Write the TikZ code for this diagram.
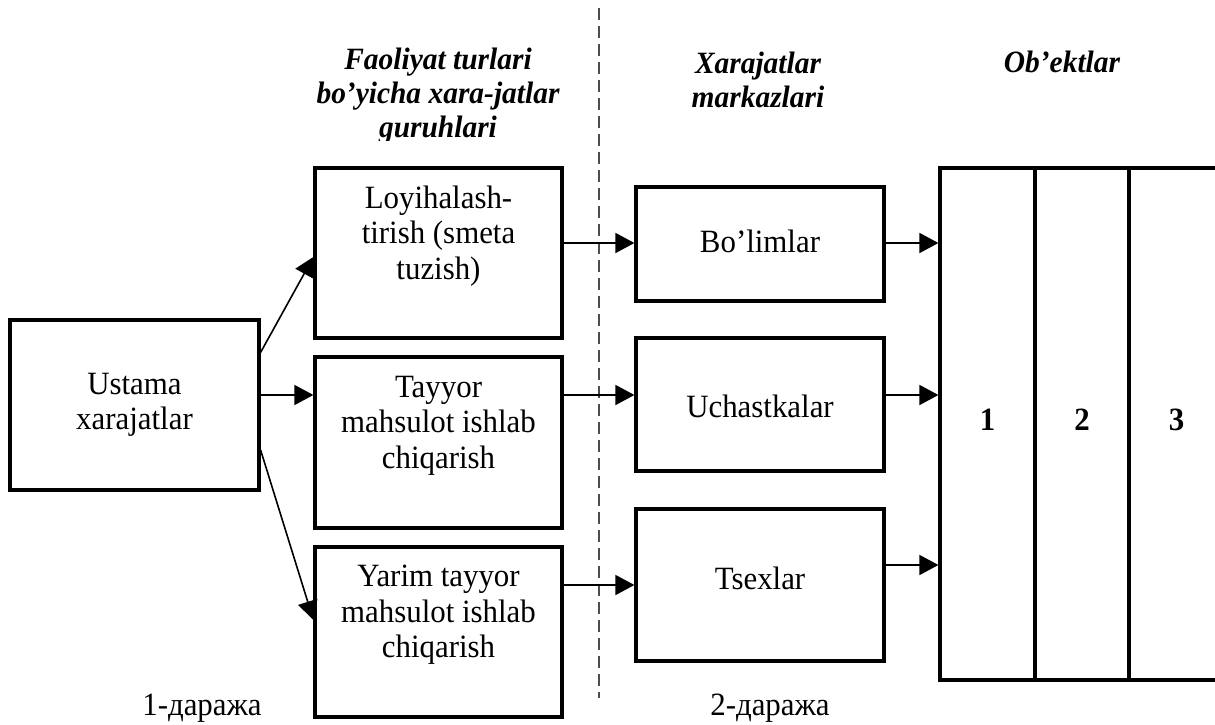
\documentclass[tikz,border=0pt]{standalone}
\usepackage{fontspec}
\setmainfont{Liberation Serif}[FakeStretch=0.95]
\usetikzlibrary{arrows.meta,calc}

\begin{document}
\begin{tikzpicture}[x=1pt,y=-1pt,
  box/.style={draw,line width=3.2pt,inner sep=0pt},
  link/.style={line width=1.6pt,-{Triangle[length=19pt,width=20pt]}},
  divider/.style={line width=1.1pt,black!70,dash pattern=on 12pt off 6pt},
  body/.style={font=\fontsize{32.5}{35.5}\selectfont,align=center,inner sep=0pt},
  head/.style={font=\fontsize{31}{34}\selectfont\bfseries\itshape,align=center,inner sep=0pt},
  num/.style={font=\fontsize{32.5}{36}\selectfont\bfseries}]

\clip (0,0) rectangle (1215,725);
\fill[white] (0,0) rectangle (1215,725);

% column headings
\begin{scope}
  \clip (250,0) rectangle (590,140);
  \node[head] (h1) at (438,96) {Faoliyat turlari\\bo’yicha xara-jatlar\\guruhlari};
\end{scope}
\node[head] (h2) at (758,80) {Xarajatlar\\markazlari};
\node[head] (h3) at (1062,62) {Ob’ektlar};

% separator between the two levels
\coordinate (dtop) at (599,8);
\coordinate (dbot) at (599,698);
\draw[divider] (dtop) -- (dbot);

% source box
\node[box,minimum width=249pt,minimum height=170pt] (ust) at (134.5,405) {};
\node[body] (ustt) at (ust.center) {Ustama\\xarajatlar};

% cost groups by activity
\node[box,minimum width=247pt,minimum height=170pt] (loy) at (438.5,253) {};
\node[body] (loyt) at ($(loy.center)+(0,-17)$) {Loyihalash-\\tirish (smeta\\tuzish)};
\node[box,minimum width=247pt,minimum height=171pt] (tay) at (438.5,442.5) {};
\node[body] (tayt) at ($(tay.center)+(0,-17)$) {Tayyor\\mahsulot ishlab\\chiqarish};
\node[box,minimum width=247pt,minimum height=170pt] (yar) at (438.5,632) {};
\node[body] (yart) at ($(yar.center)+(0,-17)$) {Yarim tayyor\\mahsulot ishlab\\chiqarish};

% cost centres
\node[box,minimum width=248pt,minimum height=114pt] (bol) at (760,244) {};
\node[body] (bolt) at ($(bol.center)+(0,-3)$) {Bo’limlar};
\node[box,minimum width=248pt,minimum height=133pt] (uch) at (760,404.5) {};
\node[body] (ucht) at ($(uch.center)+(0,2)$) {Uchastkalar};
\node[box,minimum width=248pt,minimum height=152pt] (tse) at (760,585) {};
\node[body] (tset) at ($(tse.center)+(0,-7)$) {Tsexlar};

% objects
\node[box,minimum width=95pt,minimum height=512pt] (c1) at (987.5,424) {};
\node[box,minimum width=94pt,minimum height=512pt] (c2) at (1082,424) {};
\node[box,minimum width=95pt,minimum height=512pt] (c3) at (1176.5,424) {};
\node[num] (n1) at ($(c1.center)+(0,-4)$) {1};
\node[num] (n2) at ($(c2.center)+(0,-4)$) {2};
\node[num] (n3) at ($(c3.center)+(0,-4)$) {3};

% level captions
\node[body] (lev1) at (202,708) {1-даража};
\node[body] (lev2) at (770,708) {2-даража};

% connectors
\draw[link] ($(ust.north east)+(0,34)$) -- ($(loy.west)+(0,4)$);
\draw[link] ($(ust.east)+(0,-10)$) coordinate (a1) -- (a1 -| tay.west);
\draw[link] ($(ust.east)+(0,45)$) -- ($(yar.west)+(0,-12)$);

\draw[link] ($(loy.east)+(0,-10)$) coordinate (a2) -- (a2 -| bol.west);
\draw[link] ($(tay.east)+(0,-47.5)$) coordinate (a3) -- (a3 -| uch.west);
\draw[link] ($(yar.east)+(0,-47)$) coordinate (a4) -- (a4 -| tse.west);

\draw[link] ($(bol.east)+(0,-1)$) coordinate (a7) -- (a7 -| c1.west);
\draw[link] ($(uch.east)+(0,-9.5)$) coordinate (a5) -- (a5 -| c1.west);
\draw[link] ($(tse.east)+(0,-20)$) coordinate (a6) -- (a6 -| c1.west);
\end{tikzpicture}
\end{document}
